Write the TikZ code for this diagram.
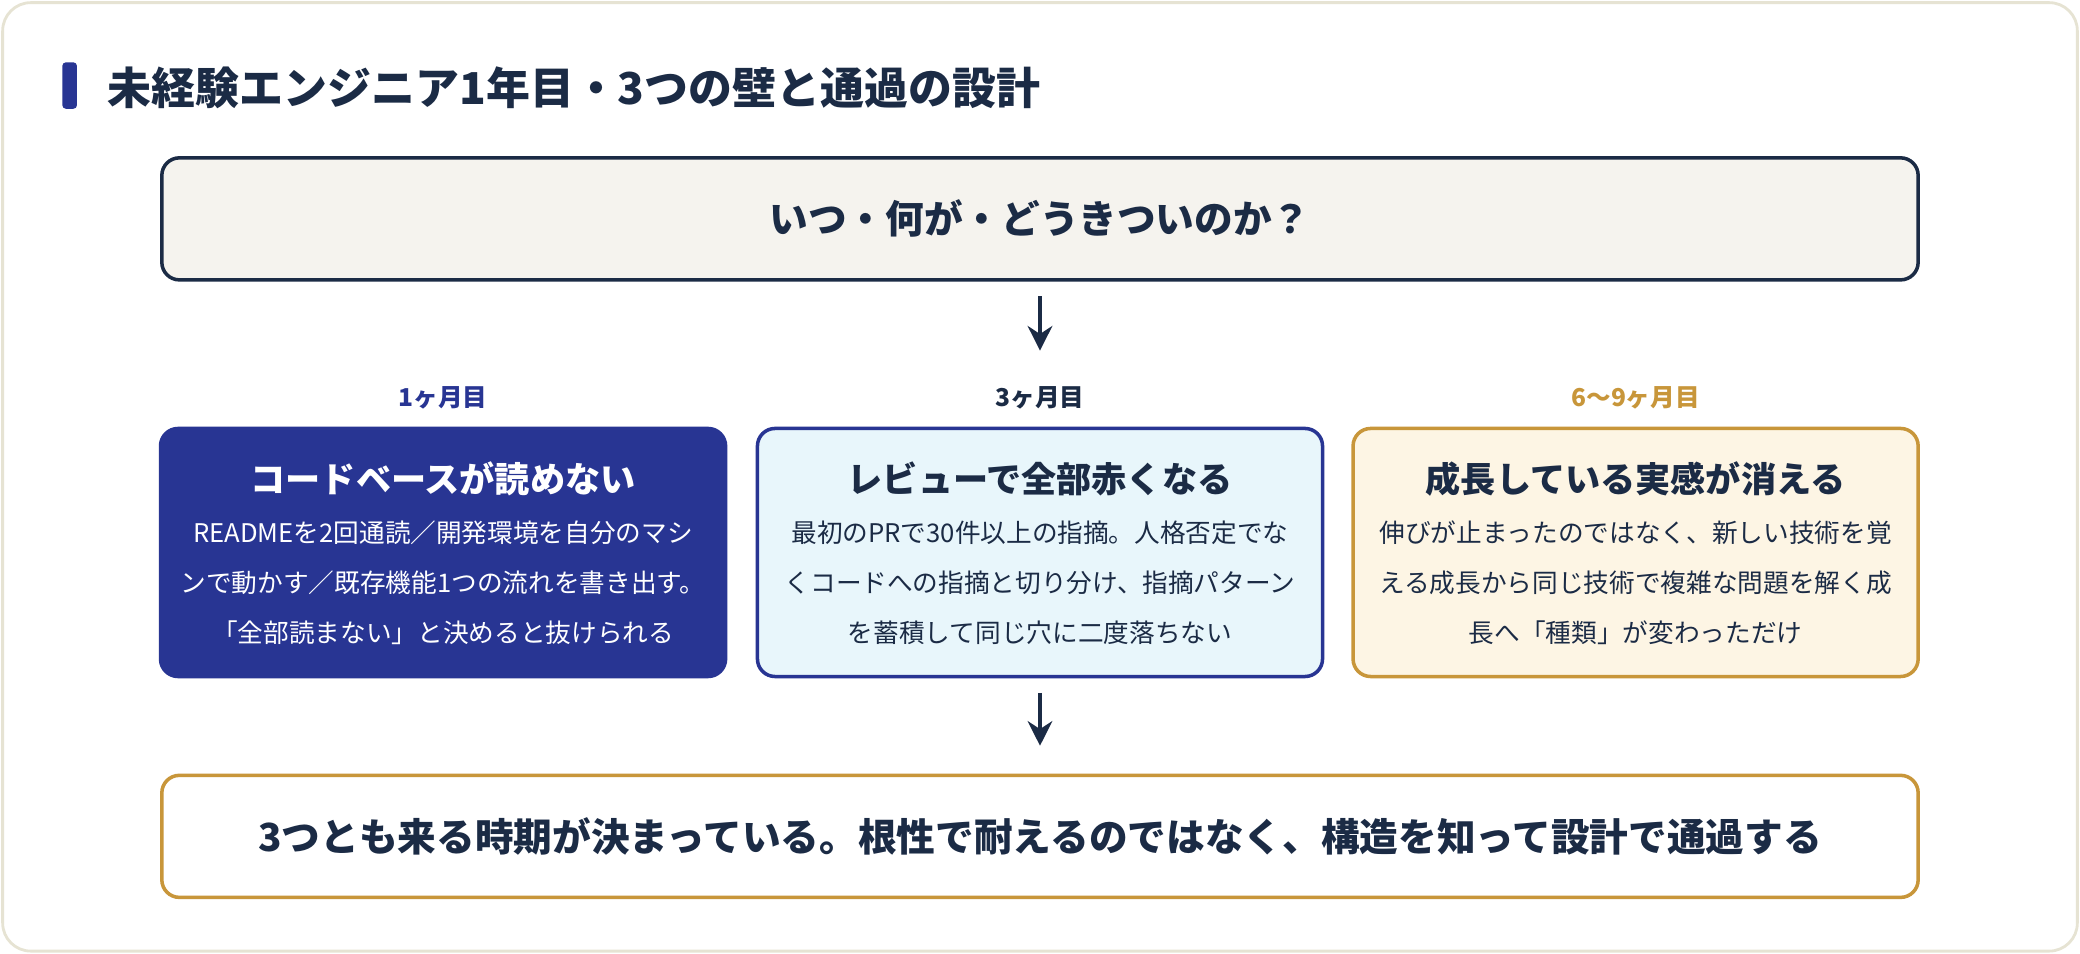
\documentclass[tikz,border=0pt]{standalone}
\usepackage{fontspec}
\setmainfont{Noto Sans CJK JP}
\usetikzlibrary{arrows.meta}
\definecolor{navy}{HTML}{1B2B45}
\definecolor{indigo}{HTML}{283593}
\definecolor{gold}{HTML}{C8963A}
\definecolor{frame}{HTML}{E6E3D3}
\definecolor{paper}{HTML}{F5F3EE}
\definecolor{sky}{HTML}{E8F6FB}
\definecolor{cream}{HTML}{FDF5E4}
\tikzstyle{box} = [draw,line width=1pt,rounded corners=5pt,minimum height=92*0.13265mm,minimum width=1324*0.13265mm]
\tikzstyle{card} = [draw,line width=1pt,rounded corners=5pt,minimum height=187*0.13265mm,minimum width=426*0.13265mm]
\tikzstyle{month} = [font=\fontsize{7}{8}\selectfont\bfseries]
\tikzstyle{head} = [font=\fontsize{10}{12}\selectfont\bfseries]
\tikzstyle{body} = [font=\fontsize{7.3}{14.3}\selectfont,align=center]
\tikzstyle{flow} = [draw,navy,line width=1pt,-{Stealth[length=7pt,width=7pt]}]

\begin{document}
\begin{tikzpicture}[x=0.13265mm,y=-0.13265mm]
\useasboundingbox (0,0) rectangle (1568,719);
\draw[frame,fill=white,rounded corners=8pt,line width=0.8pt] (2,2) rectangle (1566,717);
\fill[indigo,rounded corners=1pt] (47,47) rectangle (58,82);
\node[anchor=west,text=navy,font=\fontsize{12.5}{14}\selectfont\bfseries] (title) at (72,66) {未経験エンジニア1年目・3つの壁と通過の設計};
\node[box,navy,fill=paper,text=navy,font=\fontsize{11}{13}\selectfont\bfseries] (question) at (784,165) {いつ・何が・どうきついのか？};
\foreach \x/\name/\when/\col/\fillc/\edge/\txt/\title/\lines in {
  334/first/1ヶ月目/indigo/indigo/indigo/white/コードベースが読めない/{READMEを2回通読／開発環境を自分のマシ\\ンで動かす／既存機能1つの流れを書き出す。\\「全部読まない」と決めると抜けられる},
  784/third/3ヶ月目/navy/sky/indigo/navy/レビューで全部赤くなる/{最初のPRで30件以上の指摘。人格否定でな\\くコードへの指摘と切り分け、指摘パターン\\を蓄積して同じ穴に二度落ちない},
  1233/sixth/6〜9ヶ月目/gold/cream/gold/navy/成長している実感が消える/{伸びが止まったのではなく、新しい技術を覚\\える成長から同じ技術で複雑な問題を解く成\\長へ「種類」が変わっただけ}}{
  \node[month,text=\col] (\name-when) at (\x,300) {\when};
  \node[card,draw=\edge,fill=\fillc] (\name) at (\x,416.5) {};
  \node[head,text=\txt] (\name-title) at (\x,361) {\title};
  \node[body,text=\txt,anchor=north] (\name-body) at (\x,383) {\lines};
}
\node[box,gold,fill=white,text=navy,font=\fontsize{11}{13}\selectfont\bfseries] (answer) at (784,630.5) {3つとも来る時期が決まっている。根性で耐えるのではなく、構造を知って設計で通過する};
\path[flow] ([yshift=-11*0.13265mm]question.south) -- ([yshift=-52*0.13265mm]question.south);
\path[flow] ([yshift=-11*0.13265mm]third.south) -- ([yshift=21*0.13265mm]answer.north);
\end{tikzpicture}
\end{document}
